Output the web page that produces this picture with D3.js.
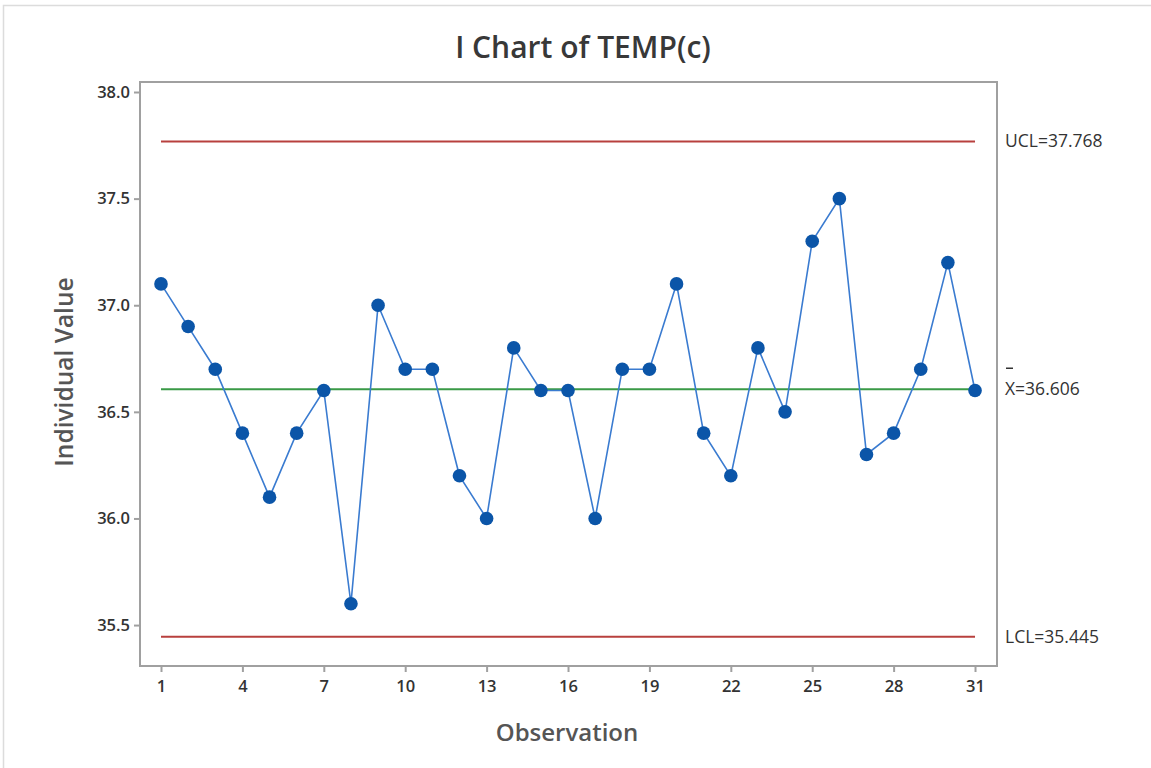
<!DOCTYPE html>
<html><head><meta charset="utf-8">
<script src="https://cdn.jsdelivr.net/npm/d3@7"></script>
<style>body{margin:0;background:#fff}svg{display:block}text{font-family:"Open Sans","Noto Sans",sans-serif}</style>
</head><body>
<svg id="c" width="1151" height="768"></svg>
<script>
const observations = d3.range(1, 32);
const temps = [37.1,36.9,36.7,36.4,36.1,36.4,36.6,35.6,37.0,36.7,
               36.7,36.2,36.0,36.8,36.6,36.6,36.0,36.7,36.7,37.1,
               36.4,36.2,36.8,36.5,37.3,37.5,36.3,36.4,36.7,37.2,36.6];
const xTicks = [1,4,7,10,13,16,19,22,25,28,31];
const yTicks = [35.5,36.0,36.5,37.0,37.5,38.0];
const UCL = 37.768, CL = 36.606, LCL = 35.445;

const svg = d3.select("#c");
svg.append("rect").attr("x",3.5).attr("y",5.5).attr("width",1150).attr("height",770)
  .attr("fill","none").attr("stroke","#dcdcdc").attr("stroke-width",1.5);

const L=140,R=997,T=82,B=666;
const x = d3.scaleLinear().domain([0.226,31.81]).range([L,R]);
const y = d3.scaleLinear().domain([35.308,38.047]).range([B,T]);

svg.append("rect").attr("x",L).attr("y",T).attr("width",R-L).attr("height",B-T)
  .attr("fill","none").attr("stroke","#a0a0a0").attr("stroke-width",2);

const ya = svg.append("g").attr("transform",`translate(${L},0)`)
  .call(d3.axisLeft(y).tickValues(yTicks).tickFormat(d3.format(".1f")).tickSize(6).tickPadding(4));
const xa = svg.append("g").attr("transform",`translate(0,${B})`)
  .call(d3.axisBottom(x).tickValues(xTicks).tickSize(6).tickPadding(8));
[ya,xa].forEach(a=>{
  a.select(".domain").remove();
  a.selectAll(".tick line").attr("stroke","#a0a0a0").attr("stroke-width",2);
  a.selectAll(".tick text").attr("fill","#333").style("font-size","16.5px").style("font-weight","600")
    .style("font-family",'"Open Sans","Noto Sans",sans-serif');
});

const x0 = x(1), x1 = x(31);
[[UCL,"#b8403e"],[LCL,"#b8403e"],[CL,"#3a9a47"]].forEach(([v,c])=>{
  svg.append("line").attr("x1",x0).attr("x2",x1).attr("y1",y(v)).attr("y2",y(v))
    .attr("stroke",c).attr("stroke-width",2);
});

const pts = observations.map((o,i)=>[o,temps[i]]);
svg.append("path").datum(pts)
  .attr("d",d3.line().x(d=>x(d[0])).y(d=>y(d[1])))
  .attr("fill","none").attr("stroke","#3a7bd0").attr("stroke-width",1.6);
svg.selectAll("circle.pt").data(pts).enter().append("circle")
  .attr("cx",d=>x(d[0])).attr("cy",d=>y(d[1])).attr("r",6.8).attr("fill","#0b55a8");

const lab = (t,v)=>svg.append("text").attr("x",1005).attr("y",y(v)+6).attr("fill","#333")
  .style("font-size","17.5px").style("font-weight","500").text(t);
lab("UCL=37.768",UCL);
lab("LCL=35.445",LCL);
lab("X=36.606",CL);
svg.append("line").attr("x1",1006).attr("x2",1013).attr("y1",y(CL)-21).attr("y2",y(CL)-21)
  .attr("stroke","#333").attr("stroke-width",1.5);

svg.append("text").attr("x",583).attr("y",58).attr("text-anchor","middle").attr("fill","#383838")
  .style("font-size","30px").style("font-weight","600").text("I Chart of TEMP(c)");
svg.append("text").attr("x",567).attr("y",741).attr("text-anchor","middle").attr("fill","#555")
  .style("font-size","24px").style("font-weight","600").text("Observation");
svg.append("text").attr("transform",`translate(73,${(T+B)/2-2}) rotate(-90)`).attr("text-anchor","middle")
  .attr("fill","#555").style("font-size","24.5px").style("font-weight","600").text("Individual Value");
</script>
</body></html>
